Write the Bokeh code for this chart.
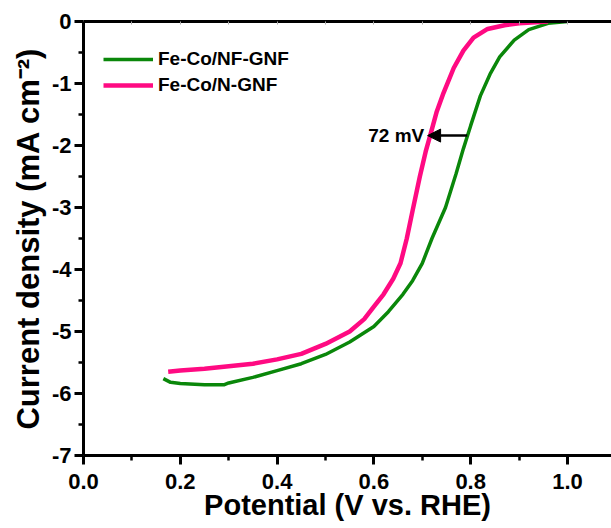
from bokeh.plotting import figure
from bokeh.models import (Range1d, FixedTicker, LinearAxis, Legend, LegendItem,
                          Arrow, NormalHead, Label)
from bokeh.embed import file_html
from bokeh.resources import INLINE

# ---- data ----
nfgnf_x = [0.165, 0.18, 0.20, 0.25, 0.29, 0.30, 0.35, 0.40, 0.45, 0.50, 0.55,
           0.60, 0.63, 0.66, 0.68, 0.70, 0.72, 0.748, 0.77, 0.785, 0.80, 0.82,
           0.84, 0.86, 0.89, 0.92, 0.96, 1.00]
nfgnf_y = [-5.76, -5.82, -5.84, -5.86, -5.86, -5.83, -5.74, -5.63, -5.52, -5.37,
           -5.17, -4.92, -4.68, -4.40, -4.18, -3.90, -3.50, -3.00, -2.45, -2.05,
           -1.68, -1.20, -0.85, -0.57, -0.30, -0.13, -0.03, 0.0]

ngnf_x = [0.175, 0.20, 0.25, 0.30, 0.35, 0.40, 0.45, 0.50, 0.55, 0.58, 0.60,
          0.62, 0.64, 0.655, 0.668, 0.68, 0.695, 0.707, 0.717, 0.73, 0.744,
          0.765, 0.785, 0.806, 0.835, 0.87, 0.90, 0.96]
ngnf_y = [-5.65, -5.63, -5.60, -5.56, -5.52, -5.45, -5.36, -5.20, -5.00, -4.80,
          -4.60, -4.40, -4.15, -3.90, -3.50, -3.05, -2.50, -2.10, -1.82, -1.45,
          -1.15, -0.75, -0.47, -0.26, -0.12, -0.06, -0.03, 0.0]

series_names = ["Fe-Co/NF-GNF", "Fe-Co/N-GNF"]
series_colors = ["#0a870a", "#ff0a82"]

x_ticks = [0.0, 0.2, 0.4, 0.6, 0.8, 1.0]
x_minor = [0.1, 0.3, 0.5, 0.7, 0.9]
y_ticks = [0, -1, -2, -3, -4, -5, -6, -7]
y_minor = [-0.5, -1.5, -2.5, -3.5, -4.5, -5.5, -6.5]

shift_label = "72 mV"
shift_from = 0.793
shift_to = 0.711
shift_y = -1.84

FONT = "Liberation Sans"

p = figure(width=611, height=528, output_backend="svg", toolbar_location=None,
           x_range=Range1d(0.0, 1.091), y_range=Range1d(-7.0, 0.0),
           min_border_left=83, min_border_right=0, min_border_top=21,
           min_border_bottom=73)
p.outline_line_color = None
p.grid.visible = False
p.background_fill_color = "white"
p.border_fill_color = "white"

for ax in (p.xaxis[0], p.yaxis[0]):
    ax.axis_line_width = 3
    ax.axis_line_color = "black"
    ax.major_tick_line_width = 3
    ax.minor_tick_line_width = 2.5
    ax.major_tick_in = 0
    ax.major_tick_out = 9
    ax.minor_tick_in = 0
    ax.minor_tick_out = 5
    ax.major_label_text_font = FONT
    ax.major_label_text_font_style = "bold"
    ax.major_label_text_font_size = "22px"
    ax.major_label_text_color = "black"
    ax.axis_label_text_font = FONT
    ax.axis_label_text_font_style = "bold"
    ax.axis_label_text_color = "black"

p.xaxis[0].axis_label_text_font_size = "29px"
p.yaxis[0].axis_label_text_font_size = "31px"
p.xaxis[0].ticker = FixedTicker(ticks=x_ticks, minor_ticks=x_minor)
p.yaxis[0].ticker = FixedTicker(ticks=y_ticks, minor_ticks=y_minor)
p.xaxis[0].major_label_overrides = {t: f"{t:.1f}" for t in x_ticks}
p.yaxis[0].major_label_overrides = {t: f"{t:d}" for t in y_ticks}
p.xaxis[0].axis_label = "Potential (V vs. RHE)"
p.yaxis[0].axis_label = "Current density (mA cm\u207b\u00b2)"
p.xaxis[0].major_label_standoff = 9
p.xaxis[0].axis_label_standoff = -3
p.yaxis[0].major_label_standoff = 3
p.yaxis[0].axis_label_standoff = 3

top = LinearAxis(ticker=FixedTicker(ticks=x_ticks + x_minor))
top.axis_line_width = 3
top.axis_line_color = "black"
top.major_tick_in = 3
top.major_tick_out = 0
top.major_tick_line_color = "#aaaaaa"
top.major_tick_line_width = 1
top.minor_tick_line_color = None
top.major_label_text_font_size = "1px"
top.major_label_text_color = None
top.major_label_standoff = 0
p.add_layout(top, "above")

r1 = p.line(nfgnf_x, nfgnf_y, line_color=series_colors[0], line_width=3.5)
r2 = p.line(ngnf_x, ngnf_y, line_color=series_colors[1], line_width=4.5)

legend = Legend(items=[LegendItem(label=series_names[0], renderers=[r1]),
                       LegendItem(label=series_names[1], renderers=[r2])],
                location=(20, 357), padding=0, margin=0, spacing=0,
                glyph_width=50, glyph_height=26, label_height=26,
                label_standoff=5, border_line_color=None,
                background_fill_alpha=0,
                label_text_font=FONT, label_text_font_style="bold",
                label_text_font_size="19px", label_text_color="black")
p.add_layout(legend, "center")

p.add_layout(Arrow(end=NormalHead(size=13, fill_color="black", line_color="black"),
                   x_start=shift_from, y_start=shift_y, x_end=shift_to, y_end=shift_y,
                   line_color="black", line_width=2.5))
p.add_layout(Label(x=shift_to - 0.007, y=shift_y, text=shift_label,
                   text_align="right", text_baseline="middle",
                   text_font=FONT, text_font_style="bold",
                   text_font_size="19px", text_color="black"))

open("out.html", "w").write(file_html(p, INLINE))
